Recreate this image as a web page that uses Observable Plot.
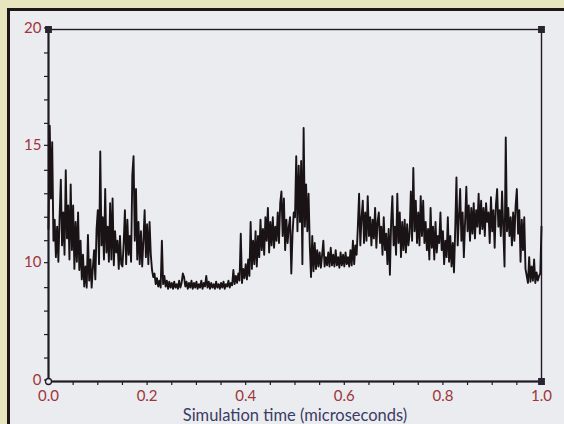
<!DOCTYPE html>
<html>
<head>
<meta charset="utf-8">
<script src="https://cdn.jsdelivr.net/npm/d3@7"></script>
<script src="https://cdn.jsdelivr.net/npm/@observablehq/plot@0.6"></script>
<style>
  html, body { margin: 0; padding: 0; }
  body { width: 564px; height: 424px; overflow: hidden; background: #e8e6bf; position: relative; font-family: Lato, "Open Sans", sans-serif; }
  #panel { position: absolute; left: 7px; top: 8px; width: 600px; height: 460px; background: #ebecf0;
           border-left: 3px solid #1d1719; border-top: 3px solid #1d1719; }
  #chart { position: absolute; left: 0; top: 0; }
</style>
</head>
<body>
<div id="panel"></div>
<div id="chart"></div>
<script>
// ---- data ----
const timeStart = 0;          // microseconds
const timeStep = 0.0025;      // sampling step (microseconds)
const values = [
  11.5, 15.9, 12.8, 15.2, 11.0, 11.9, 10.3, 11.6, 10.1, 12.0,
  13.6, 10.8, 12.2, 10.4, 14.0, 11.1, 12.5, 10.2, 13.4, 10.6,
  12.5, 9.6, 11.8, 10.1, 12.2, 9.5, 11.0, 8.7, 10.4, 8.1,
  9.8, 8.0, 11.25, 8.6, 10.2, 8.0, 9.7, 10.6, 8.7, 11.5,
  12.3, 10.0, 14.8, 10.8, 12.0, 10.2, 13.2, 10.5, 11.6, 10.1,
  12.6, 10.2, 12.8, 9.9, 11.4, 10.5, 11.0, 9.6, 11.2, 10.0,
  9.8, 10.9, 12.3, 10.0, 11.9, 10.4, 11.2, 10.1, 13.8, 14.6,
  11.0, 13.2, 10.2, 11.8, 10.0, 11.4, 9.8, 11.0, 12.3, 10.3,
  11.7, 10.0, 11.8, 10.4, 9.5, 8.9, 9.2, 8.3, 8.8, 8.1,
  8.6, 8.0, 11.0, 8.3, 9.0, 8.1, 8.6, 7.9, 8.5, 8.0,
  8.4, 7.9, 8.5, 8.0, 8.3, 7.9, 8.6, 8.0, 8.4, 9.2,
  8.9, 8.1, 8.5, 7.9, 8.4, 8.0, 8.6, 7.9, 8.4, 8.0,
  8.5, 7.9, 8.3, 8.0, 8.6, 7.9, 8.4, 8.1, 9.0, 8.0,
  8.5, 7.9, 8.4, 8.0, 8.3, 7.9, 8.5, 8.0, 8.3, 7.9,
  8.4, 8.0, 8.5, 7.9, 8.3, 8.1, 8.6, 8.0, 8.4, 8.2,
  9.5, 8.3, 9.0, 8.4, 9.2, 8.6, 11.3, 8.4, 9.6, 8.8,
  10.0, 8.7, 10.2, 9.0, 11.8, 9.6, 11.0, 10.0, 11.4, 9.8,
  11.2, 10.3, 11.9, 10.6, 11.5, 10.4, 12.0, 11.0, 12.4, 10.5,
  11.8, 10.8, 12.0, 10.7, 11.6, 11.0, 12.2, 10.9, 12.6, 13.1,
  11.2, 12.8, 10.6, 11.9, 10.9, 11.6, 12.0, 9.2, 11.3, 12.2,
  12.0, 14.6, 11.4, 14.2, 11.8, 14.4, 10.0, 15.8, 11.6, 13.4,
  11.4, 13.0, 10.8, 8.9, 11.2, 9.4, 10.9, 9.6, 10.6, 9.8,
  10.5, 9.7, 10.4, 11.0, 9.8, 10.3, 9.9, 10.5, 9.8, 10.7,
  9.9, 10.4, 9.8, 10.6, 9.9, 10.3, 9.7, 10.5, 9.9, 10.4,
  9.8, 10.5, 10.0, 10.3, 9.8, 10.6, 9.9, 11.0, 10.0, 10.8,
  10.4, 11.6, 13.0, 10.8, 12.0, 12.7, 10.9, 12.2, 11.0, 12.9,
  11.2, 12.0, 10.8, 11.9, 11.1, 12.4, 10.7, 11.8, 12.2, 10.9,
  11.6, 10.4, 12.0, 10.6, 11.3, 10.0, 11.5, 9.1, 11.8, 12.9,
  10.8, 11.6, 10.4, 13.0, 10.9, 12.2, 10.3, 11.8, 10.6, 11.9,
  10.5, 11.7, 10.8, 11.3, 13.1, 11.0, 14.1, 11.4, 12.7, 10.9,
  12.2, 10.8, 12.9, 11.2, 12.7, 10.9, 11.8, 10.6, 11.5, 10.2,
  12.4, 10.7, 11.6, 10.2, 11.8, 10.5, 11.2, 10.9, 12.2, 10.6,
  11.4, 10.0, 11.0, 10.3, 12.0, 10.1, 11.2, 9.8, 10.9, 9.3,
  11.5, 13.7, 10.8, 12.0, 13.2, 11.0, 12.2, 10.3, 11.8, 13.3,
  11.4, 12.5, 11.0, 12.4, 11.3, 12.6, 11.1, 12.3, 11.6, 13.0,
  11.3, 12.7, 11.5, 12.4, 11.2, 12.6, 11.8, 12.2, 10.9, 12.85,
  11.4, 12.3, 10.7, 12.5, 13.2, 11.6, 12.3, 11.2, 13.1, 11.5,
  9.8, 15.4, 11.4, 12.4, 11.2, 12.0, 10.8, 12.2, 11.0, 12.5,
  13.2, 11.3, 12.3, 10.1, 11.9, 10.6, 12.0, 9.6, 9.0, 8.4,
  10.3, 8.5, 9.8, 8.6, 10.2, 8.4, 9.3, 8.6, 9.0, 9.2,
  11.6
];
const xDomain = [0, 1];
const yBreaks = [0, 10, 15, 20];          // axis as printed: 0, 10, 15, 20 equally spaced
const xMajorTicks = [0, 0.2, 0.4, 0.6, 0.8, 1.0];
const xMinorTicks = [0.05, 0.1, 0.15, 0.25, 0.3, 0.35, 0.45, 0.5, 0.55, 0.65, 0.7, 0.75, 0.85, 0.9, 0.95];
const yMajorTicks = [0, 10, 15, 20];
const yMinorTicks = [2, 4, 6, 8, 11, 12, 13, 14, 16, 17, 18, 19];
const xLabel = "Simulation time (microseconds)";

// the printed y axis is piecewise: each labelled break is one equal step
const yWarp = d3.scaleLinear().domain(yBreaks).range(yBreaks.map((_, i) => i));
const yUnwarp = u => Math.round(d3.scaleLinear().domain(yBreaks.map((_, i) => i)).range(yBreaks)(u) * 1000) / 1000;

const series = values.map((v, i) => ({t: timeStart + i * timeStep, v}));
const yMin = yBreaks[0], yMax = yBreaks[yBreaks.length - 1];
const cornerSquares = [
  {t: xDomain[0], v: yMax},
  {t: xDomain[1], v: yMax},
  {t: xDomain[1], v: yMin}
];
const origin = [{t: xDomain[0], v: yMin}];

const tickColor = "#a0343a";
const axisColor = "#1f1a24";
const noLabel = () => "";
const wy = d => yWarp(d.v);

const chart = Plot.plot({
  width: 564,
  height: 424,
  marginLeft: 48,
  marginRight: 23,
  marginTop: 29,
  marginBottom: 43,
  style: {background: "transparent", fontFamily: "Lato, 'Open Sans', sans-serif", overflow: "visible"},
  x: {domain: xDomain},
  y: {domain: [yWarp(yMin), yWarp(yMax)]},
  marks: [
    Plot.frame({stroke: axisColor, strokeWidth: 1.4}),
    Plot.axisX({ticks: xMinorTicks, tickFormat: noLabel, tickSize: 4, stroke: axisColor, strokeWidth: 1.2, label: null}),
    Plot.axisX({ticks: xMajorTicks, tickFormat: d => d.toFixed(1), tickSize: 4, tickPadding: 5,
                fontSize: 15, color: tickColor, stroke: axisColor, strokeWidth: 1.2, label: null}),
    Plot.axisY({ticks: yMinorTicks.map(yWarp), tickFormat: noLabel, tickSize: 4, stroke: axisColor, strokeWidth: 1.2, label: null}),
    Plot.axisY({ticks: yMajorTicks.map(yWarp), tickFormat: u => String(yUnwarp(u)), tickSize: 4, tickPadding: 3,
                dy: -1.5, fontSize: 15, color: tickColor, stroke: axisColor, strokeWidth: 1.2, label: null}),
    Plot.ruleX([xDomain[0]], {stroke: axisColor, strokeWidth: 2}),
    Plot.ruleY([yWarp(yMin)], {stroke: axisColor, strokeWidth: 2}),
    Plot.line(series, {x: "t", y: wy, stroke: "#1a1315", strokeWidth: 1.9}),
    Plot.dot(cornerSquares, {x: "t", y: wy, symbol: "square", r: 3, fill: "#2a2430", stroke: "#2a2430"}),
    Plot.dot(origin, {x: "t", y: wy, r: 3, fill: "#ebecf0", stroke: axisColor, strokeWidth: 1.3}),
    Plot.text([xLabel], {frameAnchor: "bottom", dy: 39, lineAnchor: "bottom", fontSize: 16.5, fill: "#3b3c64"})
  ]
});
document.getElementById("chart").appendChild(chart);
</script>
</body>
</html>
